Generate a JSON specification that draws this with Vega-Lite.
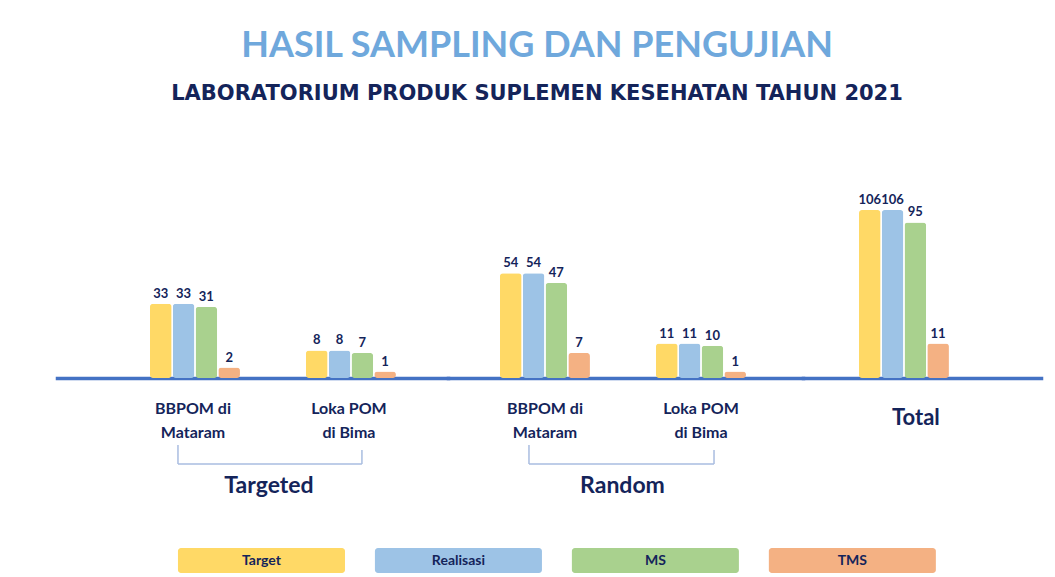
{
  "$schema": "https://vega.github.io/schema/vega-lite/v6.json",
  "padding": {"left": 57, "top": 28, "right": 14, "bottom": 4},
  "background": "white",
  "title": {
    "text": "HASIL SAMPLING DAN PENGUJIAN",
    "subtitle": "LABORATORIUM PRODUK SUPLEMEN KESEHATAN TAHUN 2021",
    "anchor": "middle",
    "dx": -12,
    "font": "Lato",
    "fontSize": 36,
    "fontWeight": "bold",
    "color": "#6FA8DC",
    "subtitleFont": "DejaVu Sans",
    "subtitleFontSize": 21,
    "subtitleFontWeight": "bold",
    "subtitleColor": "#14245A",
    "subtitlePadding": 18,
    "offset": 73
  },
  "datasets": {
    "hasil": [
      {"kategori": "Targeted", "lokasi": "BBPOM di\nMataram", "seri": "Target", "nilai": 33},
      {"kategori": "Targeted", "lokasi": "BBPOM di\nMataram", "seri": "Realisasi", "nilai": 33},
      {"kategori": "Targeted", "lokasi": "BBPOM di\nMataram", "seri": "MS", "nilai": 31},
      {"kategori": "Targeted", "lokasi": "BBPOM di\nMataram", "seri": "TMS", "nilai": 2},
      {"kategori": "Targeted", "lokasi": "Loka POM\ndi Bima", "seri": "Target", "nilai": 8},
      {"kategori": "Targeted", "lokasi": "Loka POM\ndi Bima", "seri": "Realisasi", "nilai": 8},
      {"kategori": "Targeted", "lokasi": "Loka POM\ndi Bima", "seri": "MS", "nilai": 7},
      {"kategori": "Targeted", "lokasi": "Loka POM\ndi Bima", "seri": "TMS", "nilai": 1},
      {"kategori": "Random", "lokasi": "BBPOM di\nMataram", "seri": "Target", "nilai": 54},
      {"kategori": "Random", "lokasi": "BBPOM di\nMataram", "seri": "Realisasi", "nilai": 54},
      {"kategori": "Random", "lokasi": "BBPOM di\nMataram", "seri": "MS", "nilai": 47},
      {"kategori": "Random", "lokasi": "BBPOM di\nMataram", "seri": "TMS", "nilai": 7},
      {"kategori": "Random", "lokasi": "Loka POM\ndi Bima", "seri": "Target", "nilai": 11},
      {"kategori": "Random", "lokasi": "Loka POM\ndi Bima", "seri": "Realisasi", "nilai": 11},
      {"kategori": "Random", "lokasi": "Loka POM\ndi Bima", "seri": "MS", "nilai": 10},
      {"kategori": "Random", "lokasi": "Loka POM\ndi Bima", "seri": "TMS", "nilai": 1},
      {"kategori": "Total", "lokasi": "Total", "seri": "Target", "nilai": 106},
      {"kategori": "Total", "lokasi": "Total", "seri": "Realisasi", "nilai": 106},
      {"kategori": "Total", "lokasi": "Total", "seri": "MS", "nilai": 95},
      {"kategori": "Total", "lokasi": "Total", "seri": "TMS", "nilai": 11}
    ]
  },
  "spacing": 51,
  "vconcat": [
    {
      "spacing": 0,
      "bounds": "flush",
      "hconcat": [
        {
          "width": 391,
          "height": 200,
          "data": {"name": "hasil"},
          "transform": [{"filter": "datum.kategori === 'Targeted'"}],
          "layer": [
            {
              "mark": {"type": "bar", "cornerRadius": 3},
              "encoding": {
                "x": {"field": "lokasi", "type": "nominal",
                  "scale": {"paddingInner": 0.423, "paddingOuter": 0.465, "align": 0.641, "round": false},
                  "axis": {"title": "Targeted", "titleX": 211.5, "titleY": 114, "titleBaseline": "alphabetic",
                    "labelExpr": "split(datum.label, '\\n')", "labelPadding": 22, "labelFontSize": 16, "labelOffset": -2}},
                "xOffset": {"field": "seri", "type": "nominal", "sort": ["Target", "Realisasi", "MS", "TMS"],
                  "scale": {"paddingInner": 0.05, "paddingOuter": 0}},
                "y": {"field": "nilai", "type": "quantitative",
                  "scale": {"type": "pow", "exponent": 0.7, "domain": [0, 136], "nice": false}, "axis": null},
                "color": {"field": "seri", "type": "nominal",
                  "scale": {"domain": ["Target", "Realisasi", "MS", "TMS"], "range": ["#FFD966", "#9DC3E6", "#A9D18E", "#F4B183"]},
                  "legend": null}
              }
            },
            {
              "mark": {"type": "text", "font": "Lato", "fontWeight": "bold", "fontSize": 13, "color": "#14245A", "baseline": "alphabetic", "dy": -6},
              "encoding": {
                "x": {"field": "lokasi", "type": "nominal"},
                "xOffset": {"field": "seri", "type": "nominal", "sort": ["Target", "Realisasi", "MS", "TMS"]},
                "y": {"field": "nilai", "type": "quantitative"},
                "text": {"field": "nilai", "type": "quantitative"}
              }
            },
            {
              "data": {"values": [{}]},
              "mark": {"type": "rule", "color": "#A9BDE0", "strokeWidth": 1.5, "xOffset": -17, "x2Offset": 11},
              "encoding": {"x": {"datum": "BBPOM di\nMataram"}, "x2": {"datum": "Loka POM\ndi Bima"}, "y": {"datum": -40.7}}
            },
            {
              "data": {"values": [{}]},
              "mark": {"type": "rule", "color": "#A9BDE0", "strokeWidth": 1.5, "xOffset": -17},
              "encoding": {"x": {"datum": "BBPOM di\nMataram"}, "y": {"datum": -28.5}, "y2": {"datum": -40.7}}
            },
            {
              "data": {"values": [{}]},
              "mark": {"type": "rule", "color": "#A9BDE0", "strokeWidth": 1.5, "xOffset": 11},
              "encoding": {"x": {"datum": "Loka POM\ndi Bima"}, "y": {"datum": -31.6}, "y2": {"datum": -40.7}}
            }
          ]
        },
        {
          "width": 355,
          "height": 200,
          "data": {"name": "hasil"},
          "transform": [{"filter": "datum.kategori === 'Random'"}],
          "layer": [
            {
              "mark": {"type": "bar", "cornerRadius": 3},
              "encoding": {
                "x": {"field": "lokasi", "type": "nominal",
                  "scale": {"paddingInner": 0.423, "paddingOuter": 0.349, "align": 0.477, "round": false},
                  "axis": {"title": "Random", "titleX": 174, "titleY": 114, "titleBaseline": "alphabetic",
                    "labelExpr": "split(datum.label, '\\n')", "labelPadding": 22, "labelFontSize": 16}},
                "xOffset": {"field": "seri", "type": "nominal", "sort": ["Target", "Realisasi", "MS", "TMS"],
                  "scale": {"paddingInner": 0.05, "paddingOuter": 0}},
                "y": {"field": "nilai", "type": "quantitative",
                  "scale": {"type": "pow", "exponent": 0.7, "domain": [0, 136], "nice": false}, "axis": null},
                "color": {"field": "seri", "type": "nominal",
                  "scale": {"domain": ["Target", "Realisasi", "MS", "TMS"], "range": ["#FFD966", "#9DC3E6", "#A9D18E", "#F4B183"]},
                  "legend": null}
              }
            },
            {
              "mark": {"type": "text", "font": "Lato", "fontWeight": "bold", "fontSize": 13, "color": "#14245A", "baseline": "alphabetic", "dy": -6},
              "encoding": {
                "x": {"field": "lokasi", "type": "nominal"},
                "xOffset": {"field": "seri", "type": "nominal", "sort": ["Target", "Realisasi", "MS", "TMS"]},
                "y": {"field": "nilai", "type": "quantitative"},
                "text": {"field": "nilai", "type": "quantitative"}
              }
            },
            {
              "data": {"values": [{}]},
              "mark": {"type": "rule", "color": "#A9BDE0", "strokeWidth": 1.5, "xOffset": -16, "x2Offset": 13},
              "encoding": {"x": {"datum": "BBPOM di\nMataram"}, "x2": {"datum": "Loka POM\ndi Bima"}, "y": {"datum": -40.7}}
            },
            {
              "data": {"values": [{}]},
              "mark": {"type": "rule", "color": "#A9BDE0", "strokeWidth": 1.5, "xOffset": -16},
              "encoding": {"x": {"datum": "BBPOM di\nMataram"}, "y": {"datum": -28.5}, "y2": {"datum": -40.7}}
            },
            {
              "data": {"values": [{}]},
              "mark": {"type": "rule", "color": "#A9BDE0", "strokeWidth": 1.5, "xOffset": 13},
              "encoding": {"x": {"datum": "Loka POM\ndi Bima"}, "y": {"datum": -31.6}, "y2": {"datum": -40.7}}
            }
          ]
        },
        {
          "width": 238,
          "height": 200,
          "data": {"name": "hasil"},
          "transform": [{"filter": "datum.kategori === 'Total'"}],
          "layer": [
            {
              "mark": {"type": "bar", "cornerRadius": 3},
              "encoding": {
                "x": {"field": "lokasi", "type": "nominal",
                  "scale": {"paddingInner": 0, "paddingOuter": 0.822, "align": 0.378, "round": false},
                  "axis": {"title": null, "labelPadding": 29.5, "labelFontSize": 22, "labelOffset": 12}},
                "xOffset": {"field": "seri", "type": "nominal", "sort": ["Target", "Realisasi", "MS", "TMS"],
                  "scale": {"paddingInner": 0.05, "paddingOuter": 0}},
                "y": {"field": "nilai", "type": "quantitative",
                  "scale": {"type": "pow", "exponent": 0.7, "domain": [0, 136], "nice": false}, "axis": null},
                "color": {"field": "seri", "type": "nominal",
                  "scale": {"domain": ["Target", "Realisasi", "MS", "TMS"], "range": ["#FFD966", "#9DC3E6", "#A9D18E", "#F4B183"]},
                  "legend": null}
              }
            },
            {
              "mark": {"type": "text", "font": "Lato", "fontWeight": "bold", "fontSize": 13, "color": "#14245A", "baseline": "alphabetic", "dy": -6},
              "encoding": {
                "x": {"field": "lokasi", "type": "nominal"},
                "xOffset": {"field": "seri", "type": "nominal", "sort": ["Target", "Realisasi", "MS", "TMS"]},
                "y": {"field": "nilai", "type": "quantitative"},
                "text": {"field": "nilai", "type": "quantitative"}
              }
            }
          ]
        }
      ]
    },
    {
      "width": 984,
      "height": 25,
      "data": {"values": [{"seri": "Target"}, {"seri": "Realisasi"}, {"seri": "MS"}, {"seri": "TMS"}]},
      "layer": [
        {
          "mark": {"type": "bar", "cornerRadius": 3},
          "encoding": {
            "x": {"field": "seri", "type": "nominal", "sort": ["Target", "Realisasi", "MS", "TMS"],
              "scale": {"paddingInner": 0.152, "paddingOuter": 0.574, "align": 0.535, "round": false}, "axis": null},
            "color": {"field": "seri", "type": "nominal",
              "scale": {"domain": ["Target", "Realisasi", "MS", "TMS"], "range": ["#FFD966", "#9DC3E6", "#A9D18E", "#F4B183"]},
              "legend": null}
          }
        },
        {
          "mark": {"type": "text", "font": "Lato", "fontWeight": "bold", "fontSize": 14, "color": "#14245A"},
          "encoding": {
            "x": {"field": "seri", "type": "nominal", "sort": ["Target", "Realisasi", "MS", "TMS"]},
            "text": {"field": "seri", "type": "nominal"}
          }
        }
      ]
    }
  ],
  "config": {
    "view": {"stroke": null},
    "font": "Lato",
    "axisX": {
      "domainColor": "#4472C4",
      "domainWidth": 3.5,
      "domainCap": "square",
      "ticks": false,
      "grid": false,
      "labelAngle": 0,
      "labelFont": "Lato",
      "labelFontWeight": "bold",
      "labelColor": "#14245A",
      "labelLineHeight": 24,
      "labelOverlap": false,
      "labelBound": false,
      "labelFlush": false,
      "titleFont": "Lato",
      "titleFontSize": 23,
      "titleFontWeight": "bold",
      "titleColor": "#14245A",
      "zindex": 1
    }
  }
}
